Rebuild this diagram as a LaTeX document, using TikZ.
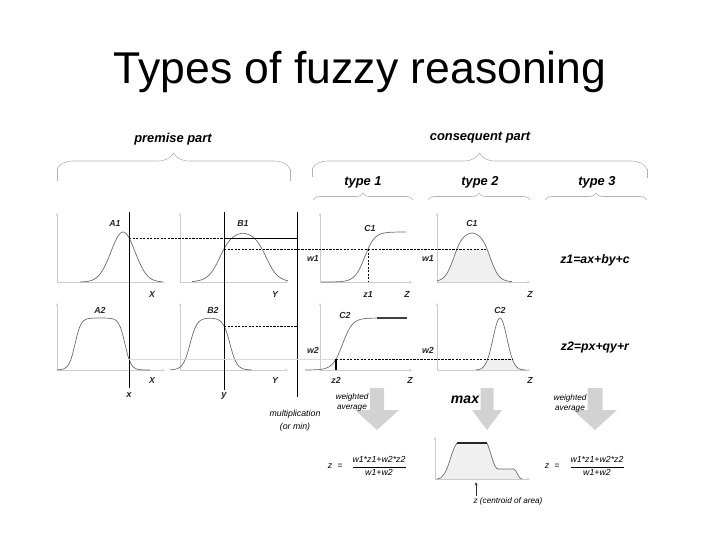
\documentclass[tikz,border=0pt]{standalone}
\usepackage{fontspec}
\setmainfont{Liberation Sans}
\usepackage{amsmath}
\usetikzlibrary{arrows.meta,decorations.pathreplacing}

% gray block arrow: centre x, shaft half width, head half width
\newcommand{\blockarrow}[3]{%
  \fill[bigarrow] (#1-#2,388) -- (#1+#2,388) -- (#1+#2,410) -- (#1+#3,410) -- (#1,430) -- (#1-#3,410) -- (#1-#2,410) -- cycle;}

\begin{document}
\begin{tikzpicture}[
  x=0.3mm, y=-0.3mm,
  axis/.style={draw=gray!40, line width=0.4pt, {Stealth[length=2.5pt,width=2pt]}-{Stealth[length=2.5pt,width=2pt]}},
  curve/.style={draw=gray!85!black, line width=0.6pt, smooth, samples=60},
  guide/.style={black, line width=0.6pt},
  level/.style={black, dash pattern=on 2pt off 1pt, line width=0.5pt},
  brc/.style={draw=gray!60, line width=0.5pt},
  area/.style={fill=gray!12},
  bigarrow/.style={fill=gray!35},
  lbl/.style={font=\fontsize{7.5}{8}\selectfont\bfseries\itshape, inner sep=1pt, text=black!85},
  frm/.style={font=\fontsize{7.5}{8}\selectfont\itshape, inner sep=1pt},
  head/.style={font=\fontsize{11}{12}\selectfont\bfseries\itshape, inner sep=1pt},
  note/.style={font=\fontsize{7}{8.5}\selectfont\itshape, inner sep=1pt, align=center},
  declare function={
    gau(\px,\pc,\pw)=exp(max(-((\px-\pc)*(\px-\pc))/(2*\pw*\pw),-9));
    lgs(\px,\pc,\ph,\pk)=1/(1+exp(min((abs(\px-\pc)-\ph)/\pk,9)));
    sgm(\px,\pc,\pk)=1/(1+exp(min(max(-(\px-\pc)/\pk,-9),9)));
  }
]
  \useasboundingbox (0,0) rectangle (720,540);

  % Title
  \node[font=\fontsize{38}{40}\selectfont, anchor=base, inner sep=0pt] (title) at (360,83) {Types of fuzzy reasoning};

  % Braces with part headings
  \draw[brc] (57,181) -- (57,169) (290,169) -- (290,181);
  \draw[brc, decorate, decoration={brace, amplitude=4.8mm}] (57,169) -- (290,169);
  \node[head] (premise) at (173,139) {premise part};
  \draw[brc] (312,177) -- (312,169) (647,169) -- (647,178);
  \draw[brc, decorate, decoration={brace, amplitude=4.8mm}] (312,169) -- (647,169);
  \node[head] (conseq) at (480,138) {consequent part};
  \draw[brc, decorate, decoration={brace, amplitude=2.1mm}] (313,200) -- (413,200);
  \draw[brc, decorate, decoration={brace, amplitude=2.1mm}] (428,200) -- (530,200);
  \draw[brc, decorate, decoration={brace, amplitude=2.1mm}] (545,200) -- (647,200);
  \node[head] (type1) at (363,182) {type 1};
  \node[head] (type2) at (480,182) {type 2};
  \node[head] (type3) at (597,182) {type 3};

  % Shaded areas (type 2 and aggregated result)
  \fill[area] (440,282) -- plot[domain=440:506, samples=80] (\x,{282-50*min(lgs(\x,472,18,4.5),0.66)}) -- (506,282) -- cycle;
  \fill[area] (480,370) -- plot[domain=480:522, samples=80] (\x,{370-52*min(gau(\x,500,7),0.21)}) -- (522,370) -- cycle;
  \fill[area] (437,479) .. controls (448,479) and (450,452) .. (457,443) -- (487,443) .. controls (491,452) and (494,469) .. (498,469) -- (514,469) .. controls (517,470) and (518,479) .. (522,479) -- cycle;

  % Axes (row 1, row 2, result)
  \draw[axis] (57,213) -- (57,282) -- (165,282);
  \draw[axis] (180,213) -- (180,282) -- (288,282);
  \draw[axis] (320,213) -- (320,282) -- (412,282);
  \draw[axis] (437,213) -- (437,282) -- (530,282);
  \draw[axis] (57,303) -- (57,370) -- (165,370);
  \draw[axis] (180,303) -- (180,370) -- (288,370);
  \draw[axis] (320,303) -- (320,370) -- (412,370);
  \draw[axis] (437,303) -- (437,370) -- (530,370);
  \draw[axis] (435,437) -- (435,479) -- (530,479);

  % Membership functions
  \draw[curve] plot[domain=80:162] (\x,{282-50*gau(\x,123,12)});
  \draw[curve] plot[domain=192:288] (\x,{282-50*lgs(\x,243,23,6)});
  \draw[curve] plot[domain=321:406] (\x,{282-50*sgm(\x,364.7,5)});
  \draw[curve] plot[domain=437:512] (\x,{282-50*lgs(\x,472,18,4.5)});
  \draw[curve] plot[domain=57:150] (\x,{370-52*lgs(\x,100,25,3)});
  \draw[curve] plot[domain=170:252] (\x,{370-52*lgs(\x,210,20,3.5)});
  \draw[curve] plot[domain=305:407] (\x,{370-52*sgm(\x,342.6,5)});
  \draw[gray!50!black, line width=1pt] (377,318) -- (407,318);
  \draw[curve] plot[domain=476:526] (\x,{370-52*gau(\x,500,7)});
  \draw[curve] (437,479) .. controls (448,479) and (450,452) .. (457,443) (487,443) .. controls (491,452) and (494,469) .. (498,469) -- (514,469) .. controls (517,470) and (518,479) .. (522,479);
  \draw[gray!30!black, line width=1pt] (457,443) -- (487,443);

  % Inputs x, y and the rule levels
  \draw[guide] (129,212) -- (129,388);
  \draw[guide] (224,212) -- (224,390);
  \draw[guide] (297,212) -- (297,397);
  \draw[level] (129,238) -- (224,238);
  \draw[guide, line width=0.5pt] (224,238) -- (297,238);
  \draw[level] (224,249) -- (487,249);
  \draw[level] (368,249) -- (368,282);
  \draw[level] (224,326) -- (297,326);
  \draw[gray!30, line width=0.5pt] (129,359) -- (336,359);
  \draw[level] (336,359) -- (513,359);
  \draw[guide, line width=0.9pt] (336,359) -- (336,370);

  % Curve and axis labels
  \node[lbl] (lA1) at (115,223) {A1};
  \node[lbl] (lB1) at (243,223) {B1};
  \node[lbl] (lC1a) at (370,228) {C1};
  \node[lbl] (lC1b) at (472,223) {C1};
  \node[lbl] (lA2) at (100,310) {A2};
  \node[lbl] (lB2) at (213,310) {B2};
  \node[lbl] (lC2a) at (345,315) {C2};
  \node[lbl] (lC2b) at (500,310) {C2};
  \node[lbl] (lX1) at (152,294) {X};
  \node[lbl] (lY1) at (275,294) {Y};
  \node[lbl] (lz1) at (368,294) {z1};
  \node[lbl] (lZ1) at (407,294) {Z};
  \node[lbl] (lZ2) at (530,294) {Z};
  \node[lbl] (lX2) at (152,380) {X};
  \node[lbl] (lY2) at (275,380) {Y};
  \node[lbl] (lz2) at (336,380) {z2};
  \node[lbl] (lZ3) at (410,380) {Z};
  \node[lbl] (lZ4) at (530,380) {Z};
  \node[lbl] (lw1a) at (313,258) {w1};
  \node[lbl] (lw1b) at (428,258) {w1};
  \node[lbl] (lw2a) at (313,350) {w2};
  \node[lbl] (lw2b) at (428,350) {w2};
  \node[lbl, font=\fontsize{8}{9}\selectfont\bfseries\itshape] (xin) at (129,395) {x};
  \node[lbl, font=\fontsize{8}{9}\selectfont\bfseries\itshape] (yin) at (224,396) {y};

  % Type 3 consequents
  \node[head, font=\fontsize{10.5}{12}\selectfont\bfseries\itshape] (rule1) at (595,260) {z1=ax+by+c};
  \node[head, font=\fontsize{10.5}{12}\selectfont\bfseries\itshape] (rule2) at (595,347) {z2=px+qy+r};

  % Defuzzification
  \blockarrow{377}{7}{22}
  \blockarrow{487}{6.5}{15}
  \blockarrow{595}{7.5}{22}
  \node[note] (wavg1) at (352,402) {weighted\\average};
  \node[note] (wavg3) at (570,403) {weighted\\average};
  \node[head, font=\fontsize{12}{13}\selectfont\bfseries\itshape] (max) at (465,400) {max};
  \node[note, font=\fontsize{7.5}{11}\selectfont\itshape] (mult) at (295,421) {multiplication\\(or min)};

  \node[frm] (zeq1) at (330,466) {z};
  \node[frm] (eq1) at (340,466) {=};
  \node[frm] (frac1) at (379,466) {$\dfrac{\textit{w1*z1+w2*z2}}{\textit{w1+w2}}$};
  \node[frm] (zeq3) at (547,466) {z};
  \node[frm] (eq3) at (557,466) {=};
  \node[frm] (frac3) at (597,466) {$\dfrac{\textit{w1*z1+w2*z2}}{\textit{w1+w2}}$};

  \coordinate (cbar) at (476,482);
  \node[frm, font=\fontsize{7}{8}\selectfont\itshape] (cen) at (508,501) {z (centroid of area)};
  \draw[gray!40!black, line width=0.5pt, -{Stealth[length=3pt,width=2.5pt]}] (cen.north -| cbar) -- (cbar);
\end{tikzpicture}
\end{document}
